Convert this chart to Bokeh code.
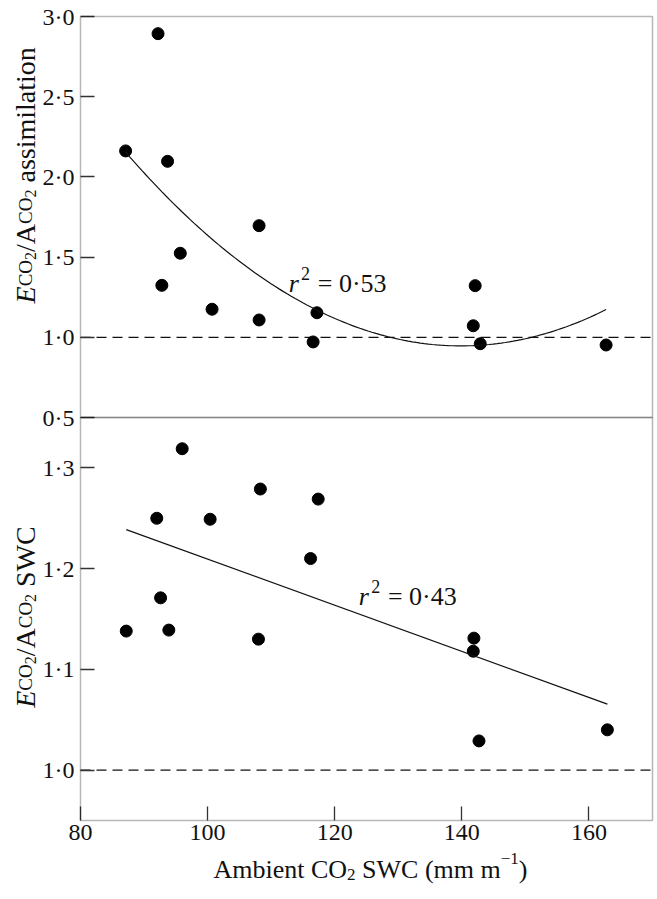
import numpy as np
from bokeh.plotting import figure
from bokeh.models import Range1d, LinearAxis, FixedTicker, Label, BoxAnnotation, CustomJSTickFormatter
from bokeh.embed import file_html
from bokeh.resources import INLINE

# ---------------- data ----------------
x_top = [87.1, 92.2, 92.8, 93.7, 95.7, 100.7, 108.1, 108.1, 116.6, 117.2, 141.8, 142.1, 142.9, 162.7]
y_top = [2.162, 2.893, 1.324, 2.097, 1.524, 1.175, 1.696, 1.108, 0.971, 1.153, 1.072, 1.322, 0.960, 0.952]

x_bot = [87.2, 92.0, 92.6, 93.9, 96.0, 100.4, 108.0, 108.3, 116.2, 117.4, 141.8, 141.9, 142.7, 162.9]
y_bot = [1.138, 1.250, 1.171, 1.139, 1.319, 1.249, 1.130, 1.279, 1.210, 1.269, 1.118, 1.131, 1.029, 1.040]

r2_top = "0·53"
r2_bot = "0·43"
ref_level = 1.0

x_lim = (80, 170)
top_lim = (0.5, 3.0)
bot_lim = (0.95, 1.35)

x_ticks = [80, 100, 120, 140, 160]
x_tick_labels = ["80", "100", "120", "140", "160"]
top_ticks = [0.5, 1.0, 1.5, 2.0, 2.5, 3.0]
top_tick_labels = ["0·5", "1·0", "1·5", "2·0", "2·5", "3·0"]
bot_ticks = [1.0, 1.1, 1.2, 1.3]
bot_tick_labels = ["1·0", "1·1", "1·2", "1·3"]

# ---------------- layout (pixels) ----------------
FONT = "Liberation Serif"
TICK_FS = 24
TITLE_FS = 26
YTITLE_FS = 28
W_PX, H_PX = 656, 898
PX_L, PX_R = 80, 652             # panel left / right edges
PX_T, PX_M, PX_B = 16, 417, 820  # top edge, divider, bottom edge


def ext_range(lo, hi, px_lo, px_hi, size, flip=False):
    """Range covering the whole canvas so that lo/hi land on the given pixels."""
    k = (hi - lo) / (px_hi - px_lo)
    if flip:   # vertical: pixel grows downwards
        return Range1d(lo - (size - px_hi) * k, hi + px_lo * k)
    return Range1d(lo - px_lo * k, hi + (size - px_hi) * k)


x_range = ext_range(x_lim[0], x_lim[1], PX_L, PX_R, W_PX)
y_range = ext_range(top_lim[0], top_lim[1], PX_T, PX_M, H_PX, flip=True)
bot_range = ext_range(bot_lim[0], bot_lim[1], PX_M, PX_B, H_PX, flip=True)

p = figure(width=W_PX, height=H_PX, x_range=x_range, y_range=y_range,
           x_axis_type=None, y_axis_type=None, output_backend="svg", toolbar_location=None,
           min_border=0)
p.extra_y_ranges = {"bot": bot_range}
p.outline_line_color = None
p.background_fill_color = "white"
p.border_fill_color = "white"

# panel boxes
p.add_layout(BoxAnnotation(left=x_lim[0], right=x_lim[1], bottom=top_lim[0], top=top_lim[1],
                           fill_alpha=0, line_color="#111111", line_width=1.5))
p.add_layout(BoxAnnotation(left=x_lim[0], right=x_lim[1], bottom=bot_lim[0], top=bot_lim[1],
                           y_range_name="bot", fill_alpha=0, line_color="#111111",
                           line_width=1.5))


def label_formatter(vals, labels):
    return CustomJSTickFormatter(
        args=dict(tick_vals=list(vals), tick_texts=list(labels)),
        code="""
            for (let i = 0; i < tick_vals.length; i++) {
                if (Math.abs(tick_vals[i] - tick) < 1e-9) return tick_texts[i];
            }
            return "";
        """)


def style_axis(ax):
    ax.axis_line_color = None
    ax.major_tick_in = 14
    ax.major_tick_out = 0
    ax.minor_tick_line_color = None
    ax.major_tick_line_color = "#333333"
    ax.major_tick_line_width = 1.3
    ax.major_label_text_font = FONT
    ax.major_label_text_font_style = "normal"
    ax.major_label_text_font_size = f"{TICK_FS}px"
    ax.major_label_text_color = "#111111"
    ax.major_label_standoff = 6


ay_top = LinearAxis(ticker=FixedTicker(ticks=top_ticks),
                    formatter=label_formatter(top_ticks, top_tick_labels),
                    fixed_location=x_lim[0])
style_axis(ay_top)
p.add_layout(ay_top, "left")

ay_bot = LinearAxis(y_range_name="bot", ticker=FixedTicker(ticks=bot_ticks),
                    formatter=label_formatter(bot_ticks, bot_tick_labels),
                    fixed_location=x_lim[0])
style_axis(ay_bot)
p.add_layout(ay_bot, "left")

ax_x = LinearAxis(y_range_name="bot", ticker=FixedTicker(ticks=x_ticks),
                  formatter=label_formatter(x_ticks, x_tick_labels),
                  fixed_location=bot_lim[0])
style_axis(ax_x)
ax_x.major_label_standoff = 4
p.add_layout(ax_x, "below")

# dashed reference lines
p.line(list(x_lim), [ref_level, ref_level], line_color="#111111", line_width=1.3,
       line_dash="10 6")
p.line(list(x_lim), [ref_level, ref_level], line_color="#111111", line_width=1.3,
       line_dash="10 6", y_range_name="bot")

# points
p.scatter(x_top, y_top, size=12, color="black")
p.scatter(x_bot, y_bot, size=12, color="black", y_range_name="bot")

# regression curves fitted to the data
c2 = np.polyfit(x_top, y_top, 2)
xs = np.linspace(min(x_top), max(x_top), 120)
p.line(xs, np.polyval(c2, xs), line_color="#111111", line_width=1.2)
c1 = np.polyfit(x_bot, y_bot, 1)
xs2 = np.linspace(min(x_bot), max(x_bot), 2)
p.line(xs2, np.polyval(c1, xs2), line_color="#111111", line_width=1.2, y_range_name="bot")

# ---------------- texts ----------------
WID = {' ': .25, 'A': .722, 'C': .667, 'E': .611, 'O': .722, 'S': .556, 'W': .944, '/': .278,
       '2': .5, '1': .5, 'a': .444, 'b': .5, 'e': .444, 'i': .278, 'l': .278, 'm': .778,
       'n': .5, 'o': .5, 's': .389, 't': .278, '(': .333, ')': .333, '−': .564, 'r': .389,
       '=': .564, '0': .5, '·': .25, '5': .5, '3': .5, '4': .5}


def adv(t, s):
    return sum(WID.get(c, .5) for c in t) * s


def run(pieces, x, y, y_range_name="default", vertical=False, x_off=0, y_off=0, center=True):
    """pieces: (text, size, style, baseline_shift_down, gap_before_in_em)"""
    total = sum(adv(t, s) + g * s for t, s, st, sh, g in pieces)
    pos = -total / 2 if center else 0
    for t, s, st, sh, g in pieces:
        pos += g * s
        if vertical:
            xo, yo, ang = x_off + sh, y_off + pos, 90
        else:
            xo, yo, ang = x_off + pos, y_off - sh, 0
        p.add_layout(Label(x=x, y=y, y_range_name=y_range_name, text=t, angle=ang,
                           angle_units="deg", x_offset=xo, y_offset=yo,
                           text_font=FONT, text_font_size=f"{s}px", text_font_style=st,
                           text_color="#111111", text_align="left",
                           text_baseline="alphabetic"))
        pos += adv(t, s)


T, YT, SC, SB = TITLE_FS, YTITLE_FS, 19, 16
ylab_head = [("E", YT, "italic", 0, 0), ("CO", SC, "normal", 0, 0), ("2", SB, "normal", 5, 0),
             ("/", YT, "normal", 0, 0), ("A", YT, "normal", 0, 0), ("CO", SC, "normal", 0, 0),
             ("2", SB, "normal", 5, 0)]
run(ylab_head + [("assimilation", YT, "normal", 0, .25)], x_lim[0], 2.01,
    vertical=True, x_off=-55)
run(ylab_head + [("SWC", YT, "normal", 0, .25)], x_lim[0], 1.152, y_range_name="bot",
    vertical=True, x_off=-55)

run([("Ambient CO", T, "normal", 0, 0), ("2", 17, "normal", 5, 0),
     ("SWC (mm m", T, "normal", 0, .25), ("−1", 17, "normal", -11, 0), (")", T, "normal", 0, 0)],
    sum(x_lim) / 2, bot_lim[0], y_range_name="bot", x_off=4, y_off=-49)

# r^2 annotations
for (lx, ly, rng, txt) in [(112.76, 1.335, "default", r2_top), (123.8, 1.1727, "bot", r2_bot)]:
    run([("r", T, "italic", 0, 0), ("2", 18, "normal", -10, .12), ("= " + txt, T, "normal", 0, .3)],
        lx, ly, y_range_name=rng, center=False)

open("out.html", "w").write(file_html(p, INLINE))
